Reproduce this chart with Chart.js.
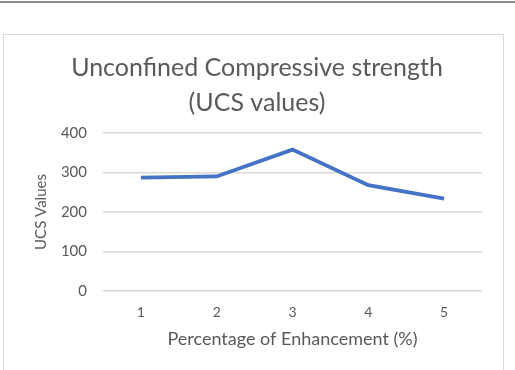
<!DOCTYPE html>
<html>
<head>
<meta charset="utf-8">
<script src="https://cdn.jsdelivr.net/npm/chart.js@4/dist/chart.umd.min.js"></script>
<style>
  html, body { margin: 0; padding: 0; background: #fff; width: 515px; height: 370px; overflow: hidden; }
  #topline { position: absolute; left: 0; top: 1px; width: 515px; height: 2px; background: #8c8c8c; }
  #frame { position: absolute; left: 3px; top: 34px; width: 501px; height: 360px; border: 1.5px solid #d9d9d9; box-sizing: border-box; }
  #wrap { position: absolute; left: 0; top: 0; width: 515px; height: 370px; }
</style>
</head>
<body>
<div id="topline"></div>
<div id="frame"></div>
<div id="wrap"><canvas id="c" width="515" height="370"></canvas></div>
<script>
const categories = ['1', '2', '3', '4', '5'];
const ucsValues = [287, 290, 358, 268, 234];
const yTicks = [0, 100, 200, 300, 400];
const titleLines = ['Unconfined Compressive strength', '(UCS values)'];
const xTitle = 'Percentage of Enhancement (%)';
const yTitle = 'UCS Values';

const FONT = 'Lato, "Open Sans", sans-serif';
const GREY = '#595959';

new Chart(document.getElementById('c'), {
  type: 'line',
  data: {
    labels: categories,
    datasets: [{
      data: ucsValues,
      borderColor: '#4472C4',
      borderWidth: 3.8,
      pointRadius: 0,
      tension: 0,
      fill: false
    }]
  },
  options: {
    responsive: false,
    animation: false,
    layout: { padding: { left: 32, right: 33, top: 50, bottom: 20 } },
    plugins: {
      legend: { display: false },
      tooltip: { enabled: false },
      title: {
        display: true,
        text: titleLines,
        color: GREY,
        font: { family: FONT, size: 25, weight: 'normal', lineHeight: 1.4 },
        padding: { top: 0, bottom: 13 }
      }
    },
    scales: {
      x: {
        offset: true,
        afterFit: (axis) => { axis.height = 59; },
        grid: { display: false },
        border: { display: false },
        ticks: { color: GREY, font: { family: FONT, size: 14 }, padding: 5 },
        title: { display: true, text: xTitle, color: GREY, font: { family: FONT, size: 18 }, padding: { top: 0, bottom: 0 } }
      },
      y: {
        min: 0,
        max: 400,
        afterFit: (axis) => { axis.width = 71; },
        afterBuildTicks: (axis) => { axis.ticks = yTicks.map(v => ({ value: v })); },
        grid: { color: '#d9d9d9', lineWidth: 1.5, drawTicks: false },
        border: { display: false },
        ticks: { color: GREY, font: { family: FONT, size: 15 }, padding: 16 },
        title: { display: true, text: yTitle, color: GREY, font: { family: FONT, size: 15 }, padding: { top: 0, bottom: 0 } }
      }
    }
  }
});
</script>
</body>
</html>
